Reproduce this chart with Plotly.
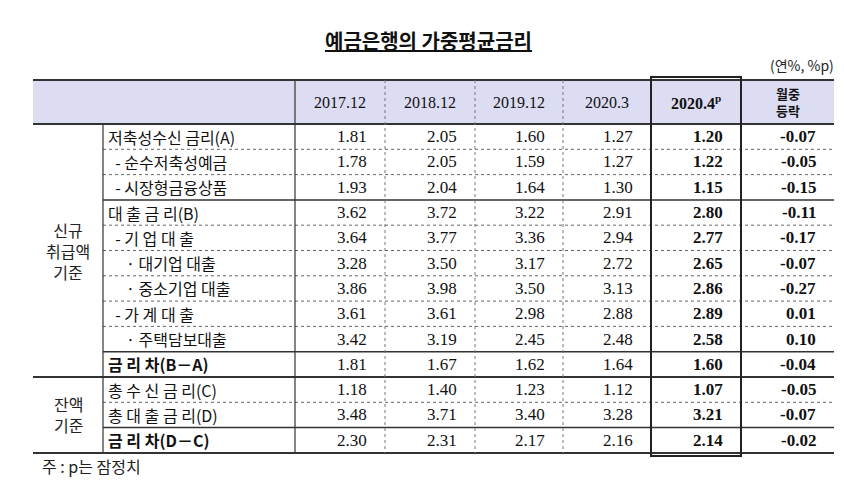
import plotly.graph_objects as go

# --- data ---
periods = ["2017.12", "2018.12", "2019.12", "2020.3", "2020.4<sup>p</sup>", "월중<br>등락"]
row_labels = ["저축성수신 금리(A)", "  - 순수저축성예금", "  - 시장형금융상품",
              "대 출 금 리(B)", "  - 기 업 대 출", "     · 대기업 대출", "     · 중소기업 대출",
              "  - 가 계 대 출", "     · 주택담보대출", "<b>금 리 차(B－A)</b>",
              "총 수 신 금 리(C)", "총 대 출 금 리(D)", "<b>금 리 차(D－C)</b>"]
v2017 = [1.81, 1.78, 1.93, 3.62, 3.64, 3.28, 3.86, 3.61, 3.42, 1.81, 1.18, 3.48, 2.30]
v2018 = [2.05, 2.05, 2.04, 3.72, 3.77, 3.50, 3.98, 3.61, 3.19, 1.67, 1.40, 3.71, 2.31]
v2019 = [1.60, 1.59, 1.64, 3.22, 3.36, 3.17, 3.50, 2.98, 2.45, 1.62, 1.23, 3.40, 2.17]
v2003 = [1.27, 1.27, 1.30, 2.91, 2.94, 2.72, 3.13, 2.88, 2.48, 1.64, 1.12, 3.28, 2.16]
v2004 = [1.20, 1.22, 1.15, 2.80, 2.77, 2.65, 2.86, 2.89, 2.58, 1.60, 1.07, 3.21, 2.14]
change = [-0.07, -0.05, -0.15, -0.11, -0.17, -0.07, -0.27, 0.01, 0.10, -0.04, -0.05, -0.07, -0.02]
groups = [("신규<br>취급액<br>기준", 0, 10), ("잔액<br>기준", 10, 13)]

# --- geometry (pixel-like coords) ---
col_x = [25, 95, 287, 377, 467, 555, 643, 733, 826]
top, head_bot, row_h = 72, 116, 25.3
n = len(row_labels)
bot = head_bot + n * row_h
def ry(i):
    return head_bot + i * row_h

SERIF = "Liberation Serif"
KR = "Noto Sans CJK KR"
fig = go.Figure()
shapes, ann = [], []

shapes.append(dict(type="rect", x0=col_x[0], x1=col_x[-1], y0=top, y1=head_bot,
                   fillcolor="#dcdcf2", line=dict(width=0), layer="below"))
# horizontal lines
solid_after = {3, 9, 10, 12}
for i in range(n + 1):
    y = ry(i)
    if i == 0 or i == n or i == 10:
        shapes.append(dict(type="line", x0=col_x[0], x1=col_x[-1], y0=y, y1=y,
                           line=dict(color="#333", width=2)))
    elif i in solid_after:
        shapes.append(dict(type="line", x0=col_x[1], x1=col_x[-1], y0=y, y1=y,
                           line=dict(color="#333", width=1.5)))
    else:
        shapes.append(dict(type="line", x0=col_x[1], x1=col_x[-1], y0=y, y1=y,
                           line=dict(color="#666", width=1, dash="dot")))
shapes.append(dict(type="line", x0=col_x[0], x1=col_x[-1], y0=top, y1=top,
                   line=dict(color="#333", width=2)))
# vertical lines
shapes.append(dict(type="line", x0=col_x[1], x1=col_x[1], y0=head_bot, y1=bot,
                   line=dict(color="#333", width=1.2)))
shapes.append(dict(type="line", x0=col_x[2], x1=col_x[2], y0=top, y1=bot,
                   line=dict(color="#333", width=1.2)))
for x in col_x[3:6]:
    shapes.append(dict(type="line", x0=x, x1=x, y0=top, y1=bot,
                       line=dict(color="#777", width=1, dash="dot")))
shapes.append(dict(type="rect", x0=col_x[6], x1=col_x[7], y0=top - 3, y1=bot + 3,
                   line=dict(color="#222", width=2)))

# header text
for j, p in enumerate(periods):
    bold = j >= 4
    if j < 5:
        fnt = dict(family=SERIF, size=16, color="#111")
    else:
        fnt = dict(family=KR, size=13, color="#111")
    ann.append(dict(x=(col_x[j + 2] + col_x[j + 3]) / 2, y=(top + head_bot) / 2,
                    text=f"<b>{p}</b>" if bold else p, showarrow=False, font=fnt))
# group labels
for g, a, b in groups:
    ann.append(dict(x=(col_x[0] + col_x[1]) / 2, y=(ry(a) + ry(b)) / 2, text=g,
                    showarrow=False, font=dict(family=KR, size=16, color="#222")))
# rows
cols = [v2017, v2018, v2019, v2003, v2004, change]
for i, lab in enumerate(row_labels):
    yc = ry(i) + row_h / 2
    ann.append(dict(x=col_x[1] + 3, y=yc, text=lab.replace(" ", "&nbsp;") if "<b>" not in lab else lab,
                    showarrow=False, xanchor="left",
                    font=dict(family=KR, size=16, color="#111")))
    for j, col in enumerate(cols):
        txt = f"{col[i]:.2f}"
        if j >= 4:
            txt = f"<b>{txt}</b>"
        ann.append(dict(x=col_x[j + 3] - 16, y=yc, text=txt, showarrow=False, xanchor="right",
                        font=dict(family=SERIF, size=17, color="#111")))

ann.append(dict(x=420, y=32, text="<b><u>예금은행의 가중평균금리</u></b>", showarrow=False,
                font=dict(family=KR, size=20, color="#111")))
ann.append(dict(x=828, y=57, text="(연%, %p)", showarrow=False, xanchor="right",
                font=dict(family=KR, size=14, color="#222")))
ann.append(dict(x=32, y=458, text="주 : p는 잠정치", showarrow=False, xanchor="left",
                font=dict(family=KR, size=16, color="#222")))

fig.update_layout(width=844, height=481, margin=dict(l=0, r=0, t=0, b=0),
                  paper_bgcolor="white", plot_bgcolor="white",
                  xaxis=dict(range=[0, 844], visible=False, fixedrange=True),
                  yaxis=dict(range=[481, 0], visible=False, fixedrange=True),
                  shapes=shapes, annotations=ann, showlegend=False)
fig.write_html("out.html")
